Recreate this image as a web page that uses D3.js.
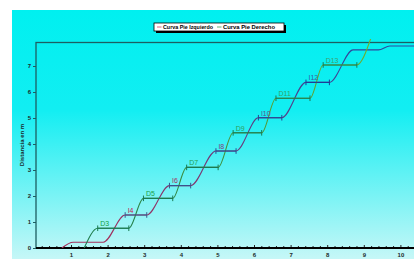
<!DOCTYPE html>
<html>
<head>
<meta charset="utf-8">
<script src="https://cdn.jsdelivr.net/npm/d3@7"></script>
<style>
  body { margin: 0; background: #fff; }
  svg { display: block; font-family: "Liberation Sans", Arial, sans-serif; }
</style>
</head>
<body>
<div id="wrapper"></div>
<script>
// curva del pie izquierdo (tiempo en s, distancia en m)
const tiempoIzq = [0.75, 1.06, 1.88, 2.48, 3.07, 3.69, 4.27, 4.96, 5.51, 6.12, 6.76, 7.42, 8.06, 8.71, 9.40, 9.71, 10.6];
const distIzq = [0, 0.22, 0.22, 1.27, 1.27, 2.40, 2.40, 3.73, 3.73, 5.01, 5.01, 6.37, 6.37, 7.62, 7.62, 7.77, 7.77];

// curva del pie derecho
const tiempoDer = [1.36, 1.73, 2.58, 2.98, 3.78, 4.16, 5.02, 5.43, 6.21, 6.60, 7.53, 7.89, 8.81, 9.20];
const distDer = [0, 0.76, 0.76, 1.91, 1.91, 3.10, 3.10, 4.43, 4.43, 5.76, 5.76, 7.04, 7.04, 8.10];

// marcas de apoyo
const pasos = [`D3`, `I4`, `D5`, `I6`, `D7`, `I8`, `D9`, `I10`, `D11`, `I12`, `D13`];
const pasoInicio = [1.73, 2.48, 2.98, 3.69, 4.16, 4.96, 5.43, 6.12, 6.60, 7.42, 7.89];
const pasoFin = [2.58, 3.07, 3.78, 4.27, 5.02, 5.51, 6.21, 6.76, 7.53, 8.06, 8.81];
const pasoNivel = [0.76, 1.27, 1.91, 2.40, 3.10, 3.73, 4.43, 5.01, 5.76, 6.37, 7.04];

const xTicks = [1, 2, 3, 4, 5, 6, 7, 8, 9, 10];
const yTicks = [0, 1, 2, 3, 4, 5, 6, 7];
const series = [`Curva Pie Izquierdo`, `Curva Pie Derecho`];

const W = 414, H = 259;
const frame = { left: 36, top: 42.5, bottom: 248 };

const svg = d3.select(`#wrapper`).append(`svg`)
  .attr(`width`, W)
  .attr(`height`, H);

const defs = svg.append(`defs`);

const xScale = d3.scaleLinear().domain([0, 10]).range([34.4, 400.4]);
const yScale = d3.scaleLinear().domain([0, 7]).range([248, 66]);

// fondo degradado
const bg = defs.append(`linearGradient`).attr(`id`, `bg`)
  .attr(`x1`, 0).attr(`y1`, 0).attr(`x2`, 0).attr(`y2`, 1);
bg.append(`stop`).attr(`offset`, `0%`).attr(`stop-color`, `#00f0f0`);
bg.append(`stop`).attr(`offset`, `40%`).attr(`stop-color`, `#12eef2`);
bg.append(`stop`).attr(`offset`, `100%`).attr(`stop-color`, `#c6f7f7`);

svg.append(`rect`)
  .attr(`x`, 12).attr(`y`, 10)
  .attr(`width`, W - 12).attr(`height`, H - 10)
  .attr(`fill`, `url(#bg)`);

const grad = (id, c0, c1) => {
  const g = defs.append(`linearGradient`).attr(`id`, id)
    .attr(`gradientUnits`, `userSpaceOnUse`)
    .attr(`x1`, 0).attr(`x2`, 0)
    .attr(`y1`, yScale(0)).attr(`y2`, yScale(8));
  g.append(`stop`).attr(`offset`, `0%`).attr(`stop-color`, c0);
  g.append(`stop`).attr(`offset`, `100%`).attr(`stop-color`, c1);
};
grad(`gIzq`, `#a8305a`, `#2a48a0`);
grad(`gDer`, `#1a7a50`, `#78b028`);

defs.append(`clipPath`).attr(`id`, `clip`)
  .append(`rect`)
  .attr(`x`, frame.left).attr(`y`, 39)
  .attr(`width`, W - frame.left).attr(`height`, frame.bottom - 39);

// marco
svg.append(`rect`)
  .attr(`x`, frame.left).attr(`y`, frame.top)
  .attr(`width`, W).attr(`height`, frame.bottom - frame.top)
  .attr(`fill`, `none`)
  .attr(`stroke`, `#1d5e62`)
  .attr(`stroke-width`, 1.3);

// ejes
const xMinor = d3.axisBottom(xScale)
  .tickValues(d3.range(1, 52).map(i => i * 0.2).filter(v => Math.abs(v - Math.round(v)) > 0.01))
  .tickSize(-2)
  .tickFormat(``);
svg.append(`g`).attr(`transform`, `translate(0, ${frame.bottom})`).call(xMinor)
  .call(g => g.select(`.domain`).remove())
  .selectAll(`line`).attr(`stroke`, `#222`);

const xAxis = d3.axisBottom(xScale).tickValues(xTicks).tickSize(-3).tickPadding(4.5);
svg.append(`g`).attr(`transform`, `translate(0, ${frame.bottom})`).call(xAxis)
  .call(g => g.select(`.domain`).remove())
  .call(g => g.selectAll(`line`).attr(`stroke`, `#222`))
  .call(g => g.selectAll(`text`).attr(`font-size`, 6).attr(`fill`, `#1a2a2a`).attr(`font-weight`, `bold`));

const yAxis = d3.axisLeft(yScale).tickValues(yTicks).tickFormat(d3.format(`d`)).tickSize(3).tickPadding(2);
svg.append(`g`)
  .attr(`transform`, `translate(${frame.left}, 0)`)
  .call(yAxis)
  .call(g => g.select(`.domain`).remove())
  .call(g => g.selectAll(`line`).attr(`stroke`, `#1d5e62`))
  .call(g => g.selectAll(`text`).attr(`font-size`, 6).attr(`fill`, `#1a2a2a`).attr(`font-weight`, `bold`));

svg.append(`line`)
  .attr(`x1`, frame.left).attr(`x2`, W)
  .attr(`y1`, frame.bottom).attr(`y2`, frame.bottom)
  .attr(`stroke`, `#000`).attr(`stroke-width`, 2);

svg.append(`text`)
  .attr(`transform`, `translate(24, 145) rotate(-90)`)
  .attr(`text-anchor`, `middle`)
  .attr(`font-size`, 6)
  .attr(`font-weight`, `bold`)
  .attr(`fill`, `#1a2a2a`)
  .text(`Distancia en m`);

// curvas
const line = d3.line()
  .x(d => xScale(d[0]))
  .y(d => yScale(d[1]))
  .curve(d3.curveMonotoneX);

const plot = svg.append(`g`).attr(`clip-path`, `url(#clip)`);

plot.append(`path`)
  .datum(d3.zip(tiempoIzq, distIzq))
  .attr(`d`, line)
  .attr(`fill`, `none`)
  .attr(`stroke`, `url(#gIzq)`)
  .attr(`stroke-width`, 1.1);

plot.append(`path`)
  .datum(d3.zip(tiempoDer, distDer))
  .attr(`d`, line)
  .attr(`fill`, `none`)
  .attr(`stroke`, `url(#gDer)`)
  .attr(`stroke-width`, 1.1);

// marcas de paso
const marcas = pasos.map((p, i) => ({
  paso: p, inicio: pasoInicio[i], fin: pasoFin[i], nivel: pasoNivel[i]
}));
const colIzq = d3.scaleLinear().domain([1, 7]).range([`#c8204e`, `#2a68b0`]);
const colDer = d3.scaleLinear().domain([0.5, 7]).range([`#10a040`, `#40a070`]);
const colMarcaIzq = d3.scaleLinear().domain([1, 7]).range([`#405a8a`, `#1a3a98`]);

const m = plot.selectAll(`.marca`).data(marcas).join(`g`).attr(`class`, `marca`);
const colorMarca = d => d.paso[0] === `I` ? colMarcaIzq(d.nivel) : `#1a7a52`;

m.append(`line`)
  .attr(`x1`, d => xScale(d.inicio)).attr(`x2`, d => xScale(d.fin))
  .attr(`y1`, d => yScale(d.nivel)).attr(`y2`, d => yScale(d.nivel))
  .attr(`stroke`, colorMarca).attr(`stroke-width`, 1.1);
m.selectAll(`.tick`).data(d => [d.inicio, d.fin].map(t => ({ t, d })))
  .join(`line`)
  .attr(`x1`, e => xScale(e.t)).attr(`x2`, e => xScale(e.t))
  .attr(`y1`, e => yScale(e.d.nivel) - 2.8).attr(`y2`, e => yScale(e.d.nivel) + 2.8)
  .attr(`stroke`, e => colorMarca(e.d)).attr(`stroke-width`, 1);
m.append(`text`)
  .attr(`x`, d => xScale(d.inicio) + 2.5)
  .attr(`y`, d => yScale(d.nivel) - 2.2)
  .attr(`font-size`, 7)
  .attr(`fill`, d => d.paso[0] === `I` ? colIzq(d.nivel) : colDer(d.nivel))
  .text(d => d.paso);

// leyenda
const leg = svg.append(`g`).attr(`transform`, `translate(154, 23)`);
leg.append(`rect`).attr(`x`, 2).attr(`y`, 2).attr(`width`, 130).attr(`height`, 8).attr(`fill`, `#000`);
leg.append(`rect`).attr(`width`, 130).attr(`height`, 8)
  .attr(`fill`, `#fff`).attr(`stroke`, `#000`).attr(`stroke-width`, 0.8);
const legX = [3, 63];
const legW = [50, 52];
const legColor = [`#d04060`, `#40a050`];
series.forEach((s, i) => {
  leg.append(`line`).attr(`x1`, legX[i]).attr(`x2`, legX[i] + 4.5).attr(`y1`, 4).attr(`y2`, 4)
    .attr(`stroke`, legColor[i]).attr(`stroke-width`, 0.8);
  leg.append(`text`).attr(`x`, legX[i] + 6).attr(`y`, 6.1)
    .attr(`font-size`, 5.6).attr(`font-weight`, `bold`)
    .attr(`textLength`, legW[i]).attr(`lengthAdjust`, `spacingAndGlyphs`)
    .text(s);
});
</script>
</body>
</html>
